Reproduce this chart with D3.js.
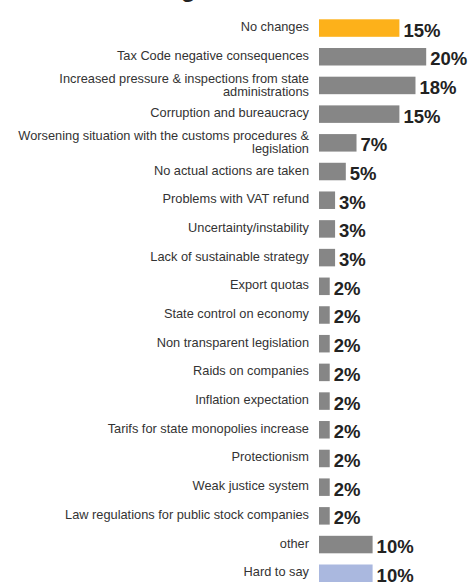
<!DOCTYPE html>
<html lang="en">
<head>
	<meta charset="utf-8">
	<title>Changes</title>
	<script src="https://cdn.jsdelivr.net/npm/d3@7/dist/d3.min.js"></script>
	<style>
		body { margin: 0; background: #fff; }
		svg { display: block; font-family: Arial, "Liberation Sans", sans-serif; }
	</style>
</head>
<body>
<script>
	// Chart data
	var categories = [
		"No changes",
		"Tax Code negative consequences",
		"Increased pressure & inspections from state\nadministrations",
		"Corruption and bureaucracy",
		"Worsening situation with the customs procedures &\nlegislation",
		"No actual actions are taken",
		"Problems with VAT refund",
		"Uncertainty/instability",
		"Lack of sustainable strategy",
		"Export quotas",
		"State control on economy",
		"Non transparent legislation",
		"Raids on companies",
		"Inflation expectation",
		"Tarifs for state monopolies increase",
		"Protectionism",
		"Weak justice system",
		"Law regulations for public stock companies",
		"other",
		"Hard to say"
	];
	var values = [15, 20, 18, 15, 7, 5, 3, 3, 3, 2, 2, 2, 2, 2, 2, 2, 2, 2, 10, 10];

	var width = 470, height = 582;

	var svg = d3.select("body")
				.append("svg")
				.attr("width", width)
				.attr("height", height);

	// title sits mostly above the visible area
	svg.append("text")
		.attr("x", 181)
		.attr("y", -3)
		.attr("font-size", 24)
		.attr("font-weight", "bold")
		.attr("fill", "#222")
		.text("g");

	// scales
	var xScale = d3.scaleLinear()
					.domain([0, 20])
					.range([319, 426.2]);

	var yScale = d3.scaleBand()
					.domain(categories)
					.range([19.3, 582])
					.paddingInner(0.39)
					.paddingOuter(0);

	function barColor(d, i) {
		if (i === 0) return "#FDB11A";
		if (i === categories.length - 1) return "#AAB8DF";
		return "#868686";
	}

	var rows = svg.selectAll("g.row")
				.data(categories)
				.enter()
				.append("g")
				.attr("class", "row");

	// bars
	rows.append("rect")
		.attr("x", xScale(0))
		.attr("y", function(d) { return yScale(d); })
		.attr("width", function(d, i) { return xScale(values[i]) - xScale(0); })
		.attr("height", yScale.bandwidth())
		.attr("fill", barColor);

	// category labels, right aligned
	rows.each(function(d) {
		var lines = d.split("\n");
		var cy = yScale(d) + yScale.bandwidth() / 2;
		var t = d3.select(this).append("text")
					.attr("text-anchor", "end")
					.attr("font-size", 12.8)
					.attr("fill", "#333");
		if (lines.length === 1) {
			t.append("tspan").attr("x", 309).attr("y", cy + 3).text(lines[0]);
		} else {
			t.append("tspan").attr("x", 309).attr("y", cy - 2.5).text(lines[0]);
			t.append("tspan").attr("x", 309).attr("y", cy + 10.5).text(lines[1]);
		}
	});

	// value labels
	rows.append("text")
		.attr("x", function(d, i) { return xScale(values[i]) + 4; })
		.attr("y", function(d) { return yScale(d) + yScale.bandwidth() - 0.3; })
		.attr("font-size", 18.5)
		.attr("font-weight", "bold")
		.attr("fill", "#222")
		.text(function(d, i) { return values[i] + "%"; });
</script>
</body>
</html>
